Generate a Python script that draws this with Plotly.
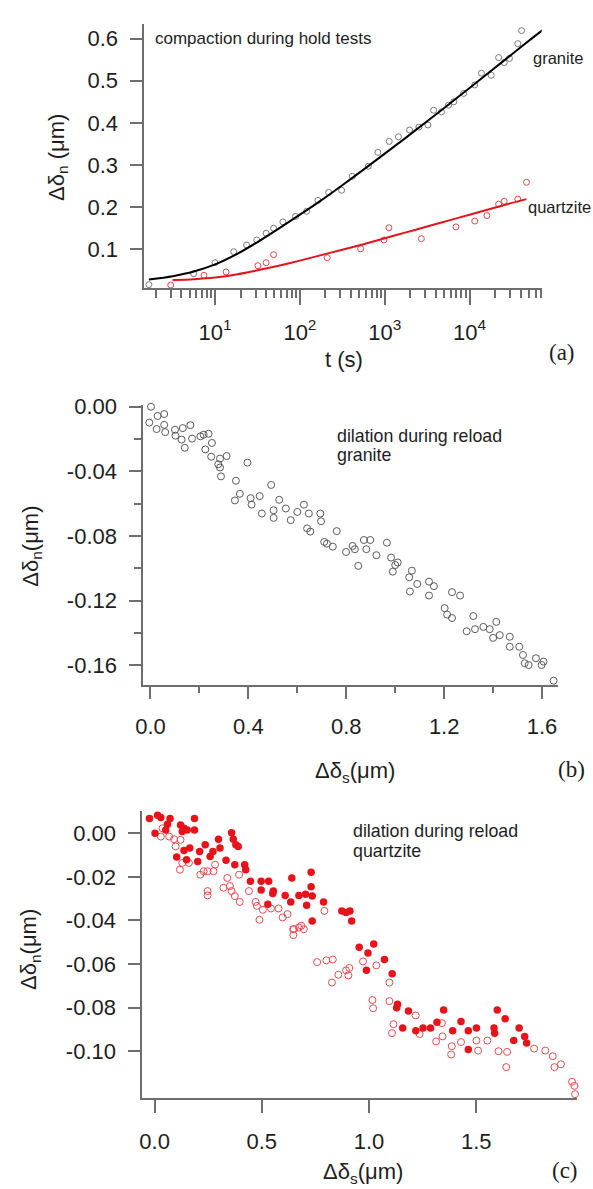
import plotly.graph_objects as go

W, H = 593, 1189

# ---------------- panel (a): compaction during hold tests ----------------
granite_t = [1.66, 5.6, 10, 16.6, 23.5, 31, 40, 49, 63, 89, 120, 163, 218, 310, 415, 640, 830,
             1130, 1450, 1960, 2530, 3230, 3770, 4660, 5640, 6500, 8500, 11500, 13800, 18000,
             22000, 25600, 29500, 37000, 41000, 55000, 74000]
granite_v = [0.016, 0.042, 0.068, 0.094, 0.11, 0.122, 0.138, 0.15, 0.165, 0.178, 0.19, 0.216,
             0.235, 0.24, 0.273, 0.297, 0.33, 0.356, 0.367, 0.383, 0.39, 0.395, 0.43, 0.426,
             0.442, 0.45, 0.47, 0.49, 0.518, 0.513, 0.555, 0.543, 0.553, 0.588, 0.619, 0.637, 0.626]
granite_fit_t = [1.66, 3.16, 5.62, 10, 17.8, 31.6, 56.2, 100, 178, 316, 562, 1000, 1780, 3160,
                 5620, 10000, 17800, 31600, 56200, 74000]
granite_fit_v = [0.028, 0.036, 0.047, 0.064, 0.088, 0.117, 0.149, 0.182, 0.216, 0.252, 0.289,
                 0.327, 0.365, 0.404, 0.443, 0.483, 0.523, 0.563, 0.603, 0.622]

quartz_t = [3.0, 7.4, 13.5, 32, 40, 49, 210, 520, 980, 1120, 2700, 6900, 11500, 16000, 22000,
            25600, 37000, 47000]
quartz_v = [0.015, 0.038, 0.046, 0.061, 0.068, 0.087, 0.080, 0.101, 0.122, 0.151, 0.125, 0.153,
            0.167, 0.18, 0.207, 0.214, 0.219, 0.259]
quartz_fit_t = [3.16, 5.62, 10, 17.8, 31.6, 56.2, 100, 178, 316, 562, 1000, 1780, 3160, 5620,
                10000, 17800, 31600, 46800]
quartz_fit_v = [0.027, 0.029, 0.033, 0.040, 0.050, 0.061, 0.073, 0.086, 0.099, 0.112, 0.126,
                0.140, 0.154, 0.168, 0.182, 0.196, 0.210, 0.219]

a_xtick_vals = [10, 100, 1000, 10000]
a_xtick_text = ["10<sup>1</sup>", "10<sup>2</sup>", "10<sup>3</sup>", "10<sup>4</sup>"]
a_ytick_vals = [0.1, 0.2, 0.3, 0.4, 0.5, 0.6]
a_ytick_text = ["0.1", "0.2", "0.3", "0.4", "0.5", "0.6"]

# ---------------- panel (b): dilation during reload, granite ----------------
b_x = [0.002, -0.005, 0.029, 0.056, 0.025, 0.056, 0.06, 0.1, 0.102, 0.132, 0.163, 0.127, 0.14,
       0.17, 0.204, 0.217, 0.237, 0.251, 0.224, 0.248, 0.284, 0.311, 0.277, 0.284, 0.288, 0.396,
       0.349, 0.365, 0.345, 0.409, 0.446, 0.413, 0.493, 0.455, 0.503, 0.503, 0.526, 0.553, 0.573,
       0.6, 0.627, 0.647, 0.64, 0.653,
       0.694, 0.697, 0.761, 0.71, 0.721, 0.745, 0.799, 0.826, 0.835, 0.872, 0.898, 0.882, 0.849,
       0.923, 0.966, 0.983, 1.01, 1.0, 0.99, 1.068, 1.057, 1.09, 1.06, 1.138, 1.158, 1.138, 1.232,
       1.265, 1.202, 1.212, 1.232, 1.319, 1.292, 1.326, 1.36, 1.386, 1.413, 1.4, 1.427,
       1.468, 1.468, 1.507, 1.522, 1.529, 1.545, 1.575, 1.598, 1.606, 1.647, 1.671]
b_y = [0.0, -0.0098, -0.0057, -0.0045, -0.0138, -0.0112, -0.0157, -0.0142, -0.0179, -0.0132,
       -0.0114, -0.0203, -0.0254, -0.0197, -0.0183, -0.0173, -0.0167, -0.0224, -0.0264, -0.0309,
       -0.0321, -0.0305, -0.0356, -0.0376, -0.0431, -0.0346, -0.0458, -0.0539, -0.058, -0.0566,
       -0.0553, -0.0606, -0.0484, -0.0661, -0.0641, -0.0688, -0.0576, -0.063, -0.0702, -0.0651,
       -0.0606, -0.0661, -0.0753, -0.0773,
       -0.0661, -0.0709, -0.077, -0.0837, -0.0848, -0.0866, -0.0899, -0.0862, -0.0882, -0.0825,
       -0.0825, -0.0882, -0.0985, -0.0919, -0.0842, -0.0934, -0.0964, -0.098, -0.1021, -0.1015,
       -0.1056, -0.1097, -0.1144, -0.1083, -0.1111, -0.1169, -0.1148, -0.1169, -0.1247, -0.1287,
       -0.1308, -0.1296, -0.139, -0.1377, -0.1363, -0.1377, -0.1332, -0.1431, -0.1414,
       -0.1424, -0.1486, -0.1486, -0.1537, -0.1588, -0.1599, -0.1557, -0.1599, -0.1578, -0.1696,
       -0.1649]
b_xtick_vals = [0.0, 0.4, 0.8, 1.2, 1.6]
b_xtick_text = ["0.0", "0.4", "0.8", "1.2", "1.6"]
b_ytick_vals = [0.0, -0.04, -0.08, -0.12, -0.16]
b_ytick_text = ["0.00", "-0.04", "-0.08", "-0.12", "-0.16"]

# ---------------- panel (c): dilation during reload, quartzite ----------------
c_filled_x = [-0.024, 0.014, 0.029, 0.075, 0.072, 0.06, 0.052, 0.002, 0.121, 0.137, 0.129, 0.186,
              0.186, 0.152, 0.103, 0.137, 0.164, 0.149, 0.201, 0.21, 0.236, 0.259, 0.272, 0.298,
              0.305, 0.333, 0.359, 0.367, 0.379, 0.39, 0.374, 0.42, 0.425, 0.447, 0.497, 0.532,
              0.554, 0.497, 0.551, 0.64, 0.609, 0.635, 0.673, 0.528,
              0.73, 0.73, 0.704, 0.735, 0.709, 0.788, 0.735, 0.873, 0.893, 0.911, 0.919, 0.954,
              1.022, 0.995, 1.072, 0.988, 1.108, 1.133, 1.129, 1.184,
              1.157, 1.218, 1.252, 1.287, 1.317, 1.348, 1.39, 1.429, 1.463, 1.501, 1.463, 1.583,
              1.586, 1.598, 1.635, 1.675, 1.7, 1.726, 1.735]
c_filled_y = [0.0068, 0.0083, 0.0073, 0.0109, 0.0068, 0.0042, 0.0015, 0.0, 0.0038, 0.0023, 0.0008,
              0.0068, 0.0015, 0.0015, -0.0109, -0.0079, -0.0068, -0.0121, -0.0129, -0.0083,
              -0.0053, -0.0106, -0.0083, -0.0027, -0.0068, -0.0124, 0.0003, -0.0027, -0.0053,
              -0.006, -0.0144, -0.0144, -0.0167, -0.022, -0.022, -0.022, -0.0265, -0.026, -0.0276,
              -0.0205, -0.0285, -0.0315, -0.0285, -0.0326,
              -0.0179, -0.0245, -0.028, -0.0288, -0.033, -0.0315, -0.0402, -0.0356, -0.0364,
              -0.0356, -0.0402, -0.0523, -0.0508, -0.0549, -0.0579, -0.0629, -0.0644, -0.0785,
              -0.08, -0.0815,
              -0.0894, -0.0906, -0.0894, -0.0894, -0.0867, -0.0811, -0.0906, -0.0864, -0.0906,
              -0.0894, -0.0992, -0.0894, -0.0917, -0.0811, -0.0851, -0.0951, -0.0894, -0.0932,
              -0.0962]
c_open_x = [0.037, 0.029, 0.068, 0.091, 0.098, 0.121, 0.118, 0.129, 0.16, 0.213, 0.229, 0.247,
            0.282, 0.275, 0.247, 0.247, 0.321, 0.339, 0.351, 0.359, 0.374, 0.397, 0.394, 0.44,
            0.471, 0.477, 0.505, 0.489, 0.543, 0.578, 0.62, 0.597, 0.646, 0.673,
            0.792, 0.65, 0.647, 0.684, 0.696, 0.758, 0.801, 0.831, 0.857, 0.827, 0.893, 0.904,
            0.908, 0.972, 1.034, 1.095, 1.016, 1.019, 1.095, 1.218,
            1.114, 1.107, 1.236, 1.313, 1.343, 1.34, 1.386, 1.383, 1.429, 1.501, 1.509, 1.552,
            1.604, 1.644, 1.64,
            1.77, 1.822, 1.857, 1.865, 1.895, 1.947, 1.958, 1.961]
c_open_y = [0.0023, -0.0015, -0.0015, -0.0027, -0.006, -0.003, -0.0167, -0.0136, -0.0136, -0.019,
            -0.0174, -0.0174, -0.0144, -0.0174, -0.0265, -0.0285, -0.025, -0.0205, -0.0242,
            -0.0265, -0.0288, -0.0315, -0.019, -0.0265, -0.0315, -0.0333, -0.0351, -0.0397,
            -0.0345, -0.0345, -0.0371, -0.0386, -0.044, -0.0432,
            -0.0356, -0.044, -0.0467, -0.0424, -0.044, -0.0591, -0.0583, -0.0579, -0.0649,
            -0.0685, -0.0629, -0.0652, -0.0618, -0.0588, -0.0606, -0.0685, -0.0765, -0.0803,
            -0.077, -0.0836,
            -0.0876, -0.0917, -0.0921, -0.0955, -0.0932, -0.0871, -0.0977, -0.1015, -0.0958,
            -0.0951, -0.0997, -0.0951, -0.1, -0.1003, -0.1073,
            -0.0988, -0.0997, -0.1023, -0.1073, -0.106, -0.114, -0.1159, -0.1197]
c_xtick_vals = [0.0, 0.5, 1.0, 1.5]
c_xtick_text = ["0.0", "0.5", "1.0", "1.5"]
c_ytick_vals = [0.0, -0.02, -0.04, -0.06, -0.08, -0.10]
c_ytick_text = ["0.00", "-0.02", "-0.04", "-0.06", "-0.08", "-0.10"]

# ---------------------------------------------------------------------------
AX = "#6e6e6e"
SANS = "Liberation Sans, Arial, sans-serif"
SERIF = "Liberation Serif, Times New Roman, serif"
RED = "#e3141b"


def px(x):
    return x / W


def py(y):
    return 1 - y / H


fig = go.Figure()

# panel (a)
fig.add_trace(go.Scatter(x=granite_t, y=granite_v, mode="markers", xaxis="x", yaxis="y",
                         marker=dict(symbol="circle-open", size=6, color="#7a7a7a",
                                     line=dict(width=1)), cliponaxis=False))
fig.add_trace(go.Scatter(x=granite_fit_t, y=granite_fit_v, mode="lines", xaxis="x", yaxis="y",
                         line=dict(color="black", width=2, shape="spline", smoothing=0.8),
                         cliponaxis=False))
fig.add_trace(go.Scatter(x=quartz_t, y=quartz_v, mode="markers", xaxis="x", yaxis="y",
                         marker=dict(symbol="circle-open", size=6, color="#e8464b",
                                     line=dict(width=1)), cliponaxis=False))
fig.add_trace(go.Scatter(x=quartz_fit_t, y=quartz_fit_v, mode="lines", xaxis="x", yaxis="y",
                         line=dict(color=RED, width=2, shape="spline", smoothing=0.8),
                         cliponaxis=False))

# panel (b)
fig.add_trace(go.Scatter(x=b_x, y=b_y, mode="markers", xaxis="x2", yaxis="y2",
                         marker=dict(symbol="circle-open", size=7, color="#5a5a5a",
                                     line=dict(width=1)), cliponaxis=False))

# panel (c)
fig.add_trace(go.Scatter(x=c_open_x, y=c_open_y, mode="markers", xaxis="x3", yaxis="y3",
                         marker=dict(symbol="circle-open", size=7, color="#ea4a50",
                                     line=dict(width=1)), cliponaxis=False))
fig.add_trace(go.Scatter(x=c_filled_x, y=c_filled_y, mode="markers", xaxis="x3", yaxis="y3",
                         marker=dict(symbol="circle", size=7.5, color="#e6131a",
                                     line=dict(width=0)), cliponaxis=False))

base = dict(showline=True, linecolor=AX, linewidth=1.5, ticks="outside", tickcolor=AX,
            tickwidth=1.5, showgrid=False, zeroline=False, mirror=False,
            tickfont=dict(family=SANS, size=22, color="#1e1e1e"), tickmode="array")

a_minor = [m * 10 ** e for e in range(0, 5) for m in range(2, 10)]

fig.update_layout(
    width=W, height=H, margin=dict(l=0, r=0, t=0, b=0),
    paper_bgcolor="white", plot_bgcolor="white", showlegend=False,
    xaxis=dict(base, type="log", domain=[px(138), px(541)], anchor="y", range=[0.164, 4.85],
               tickvals=a_xtick_vals, ticktext=a_xtick_text, ticklen=15, ticklabelstandoff=8,
               minor=dict(tickmode="array", tickvals=a_minor, ticks="outside", ticklen=8,
                          tickcolor=AX, tickwidth=1.5, showgrid=False)),
    yaxis=dict(base, domain=[py(280), py(13)], anchor="x", range=[0.007, 0.635],
               tickvals=a_ytick_vals, ticktext=a_ytick_text, ticklen=12, ticklabelstandoff=8),
    xaxis2=dict(base, domain=[px(137), px(558)], anchor="y2", range=[-0.030, 1.667],
                tickvals=b_xtick_vals, ticktext=b_xtick_text, ticklen=13, ticklabelstandoff=8,
                minor=dict(dtick=0.2, tick0=0, ticks="outside", ticklen=7, tickcolor=AX,
                           tickwidth=1.5, showgrid=False)),
    yaxis2=dict(base, domain=[py(680), py(398)], anchor="x2", range=[-0.1721, 0.0009],
                tickvals=b_ytick_vals, ticktext=b_ytick_text, ticklen=12, ticklabelstandoff=8,
                minor=dict(dtick=0.02, tick0=0, ticks="outside", ticklen=7, tickcolor=AX,
                           tickwidth=1.5, showgrid=False)),
    xaxis3=dict(base, domain=[px(136), px(577)], anchor="y3", range=[-0.058, 1.971],
                tickvals=c_xtick_vals, ticktext=c_xtick_text, ticklen=13, ticklabelstandoff=10),
    yaxis3=dict(base, domain=[py(1097), py(807)], anchor="x3", range=[-0.1214, 0.01045],
                tickvals=c_ytick_vals, ticktext=c_ytick_text, ticklen=12, ticklabelstandoff=8),
)


def note(text, x, y, size=16, xanchor="left", family=SANS, angle=0, color="#1e1e1e"):
    fig.add_annotation(text=text, x=px(x), y=py(y), xref="paper", yref="paper",
                       xanchor=xanchor, yanchor="middle", showarrow=False, textangle=angle,
                       font=dict(family=family, size=size, color=color))


# panel (a) texts
note("compaction during hold tests", 147, 28, 17)
note("granite", 530, 47, 16.5)
note("quartzite", 525, 198, 16.5)
note("t (s)", 341, 352, 22, "center")
note("(a)", 562, 345, 23, "center", SERIF)
note("Δδ<sub>n</sub> (μm)", 50, 148, 22, "center", angle=-90)

# panel (b) texts
note("dilation during reload", 331, 429, 17.8)
note("granite", 331, 448, 17.8)
note("Δδ<sub>s</sub>(μm)", 352, 768, 22, "center")
note("(b)", 571, 766, 23, "center", SERIF)
note("Δδ<sub>n</sub>(μm)", 24, 540, 22, "center", angle=-90)

# panel (c) texts
note("dilation during reload", 348, 828, 17.8)
note("quartzite", 348, 848, 17.8)
note("Δδ<sub>s</sub>(μm)", 360, 1173, 22, "center")
note("(c)", 565, 1170, 23, "center", SERIF)
note("Δδ<sub>n</sub>(μm)", 23, 947, 22, "center", angle=-90)

fig.write_html("out.html")
